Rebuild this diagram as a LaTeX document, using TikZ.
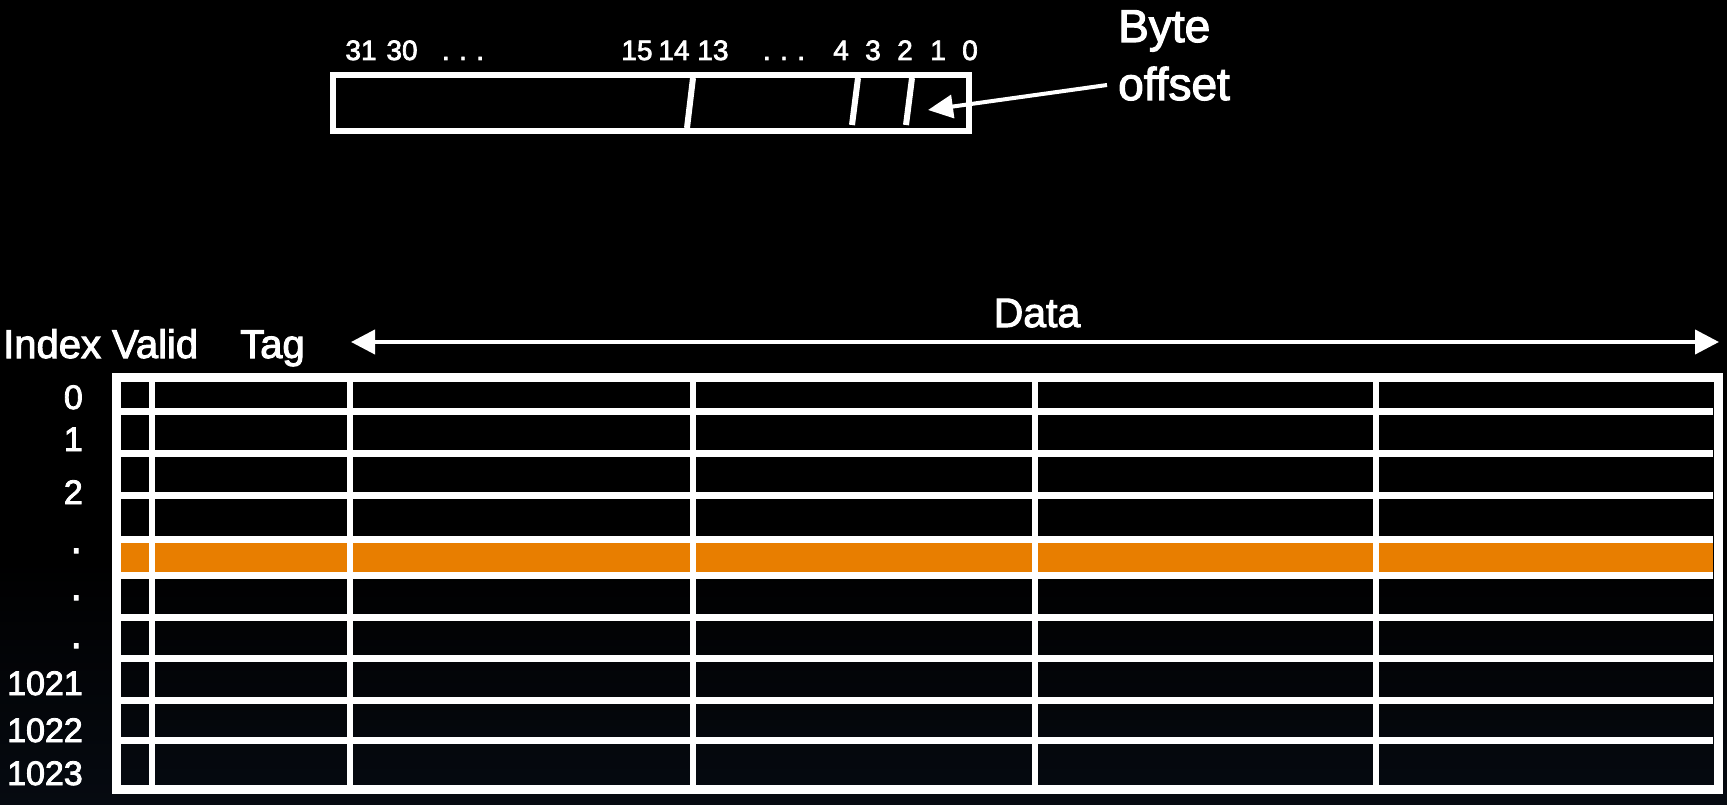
\documentclass[tikz,border=0pt]{standalone}
\usepackage{fontspec}
\setmainfont[FakeBold=2.5]{Liberation Sans}
\usetikzlibrary{arrows.meta}
\definecolor{hl}{RGB}{232,126,0}
\definecolor{bgb}{RGB}{6,10,17}
\tikzset{
  hdr/.style={font=\fontsize{40}{48}\selectfont, text=white, inner sep=0pt, anchor=base west},
  idx/.style={font=\fontsize{34}{40}\selectfont, text=white, inner sep=0pt, anchor=base east},
  bit/.style={font=\fontsize{28}{34}\selectfont, text=white, inner sep=0pt, anchor=base},
  big/.style={font=\fontsize{46}{56}\selectfont, text=white, inner sep=0pt, anchor=base west},
  hline/.style={draw=white, line width=7pt},
  vline/.style={draw=white, line width=6pt},
  regline/.style={draw=white, line width=6pt},
  arr/.style={draw=white, line width=4pt, -{Triangle[length=25pt,width=23pt]}},
  dblarr/.style={draw=white, line width=4pt, {Triangle[length=24pt,width=24pt]}-{Triangle[length=24pt,width=24pt]}},
}
\begin{document}
\begin{tikzpicture}[x=1pt,y=-1pt]
\useasboundingbox (0,0) rectangle (1727,805);
\fill[black] (0,0) rectangle (1727,805);
\shade[top color=black, bottom color=bgb] (0,560) rectangle (1727,805);

% ---- address register ----
\draw[regline] (333,75) rectangle (969,131);
\draw[regline] (693,78) -- (687,128);
\draw[regline] (858,78) -- (852,125);
\draw[regline] (912,78) -- (906,125);
\node[bit] (b31) at (361,60) {31};
\node[bit] (b30) at (402,60) {30};
\node[bit] (bd1) at (463,60) {.\,\,.\,\,.};
\node[bit] (b15) at (637,60) {15};
\node[bit] (b14) at (674,60) {14};
\node[bit] (b13) at (713,60) {13};
\node[bit] (bd2) at (784,60) {.\,\,.\,\,.};
\node[bit] (b4) at (841,60) {4};
\node[bit] (b3) at (873,60) {3};
\node[bit] (b2) at (905,60) {2};
\node[bit] (b1) at (938,60) {1};
\node[bit] (b0) at (970,60) {0};

\node[big] (byte) at (1118,42) {Byte};
\node[big] (offs) at (1118,100) {offset};
\coordinate (bstart) at (1107,85);
\coordinate (btip) at (928,110);
\draw[arr] (bstart) -- (btip);

% ---- headers ----
\node[hdr] (hidx) at (3,358) {Index};
\node[hdr] (hval) at (112,358) {Valid};
\node[hdr] (htag) at (240,358) {Tag};
\node[font=\fontsize{41}{48}\selectfont, text=white, inner sep=0pt, anchor=base] (hdata) at (1037,327) {Data};
\coordinate (dL) at (351,342);
\coordinate (dR) at (1719,342);
\draw[dblarr] (dL) -- (dR);

% ---- table ----
\fill[hl] (120,543) rectangle (1713,572);
\foreach \y in {411.5,453.5,495,539.5,575,617.5,658.5,700,740}
  \draw[hline] (120,\y) -- (1713,\y);
\foreach \x in {152,350,693,1035,1376}
  \draw[vline] (\x,382) -- (\x,785);
\draw[draw=white, line width=9pt] (116.5,377.5) rectangle (1718.5,789.5);

% ---- index labels ----
\node[idx] (i0) at (83,409) {0};
\node[idx] (i1) at (83,451) {1};
\node[idx] (i2) at (83,504) {2};
\node[idx] (i3) at (82,553) {\fontsize{40}{40}\selectfont .};
\node[idx] (i4) at (82,600) {\fontsize{40}{40}\selectfont .};
\node[idx] (i5) at (82,648) {\fontsize{40}{40}\selectfont .};
\node[idx] (i6) at (83,695) {1021};
\node[idx] (i7) at (83,742) {1022};
\node[idx] (i8) at (83,785) {1023};
\end{tikzpicture}
\end{document}
